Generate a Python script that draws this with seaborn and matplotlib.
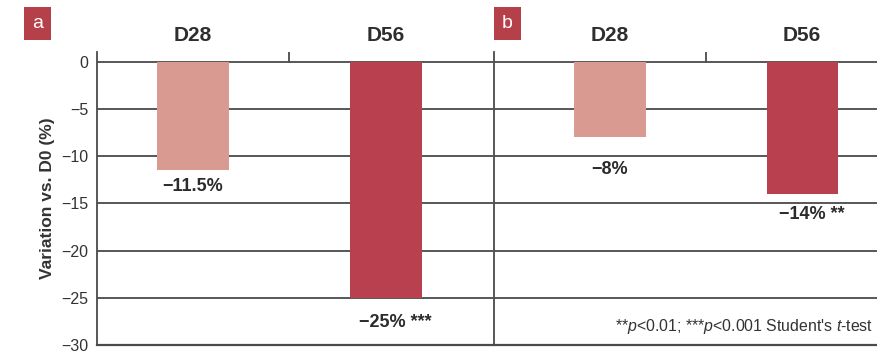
import matplotlib
matplotlib.use("Agg")
import matplotlib.pyplot as plt
import pandas as pd
import seaborn as sns

# values
days = ["D28", "D56"]
panel_a = [-11.5, -25]
panel_b = [-8, -14]
labels_a = ["\u221211.5%", "\u221225% ***"]
labels_b = ["\u22128%", "\u221214% **"]
bar_colors = ["#d99a92", "#b8404f"]
yticks = [0, -5, -10, -15, -20, -25, -30]
label_gap_a = [1.75, 2.6]
label_gap_b = [3.4, 2.2]
footnote = r"**$p$<0.01; ***$p$<0.001 Student's $t$-test"

sns.set_style("white")
plt.rcParams['font.family'] = ['Liberation Sans', 'DejaVu Sans']
plt.rcParams['mathtext.fontset'] = 'custom'
plt.rcParams['mathtext.it'] = 'Liberation Sans:italic'
plt.rcParams['mathtext.rm'] = 'Liberation Sans'

fig = plt.figure(figsize=(8.77, 3.53), dpi=100)
ax_a = fig.add_axes([0.1106, 0.0227, 0.4515, 0.830])
ax_b = fig.add_axes([0.5633, 0.0227, 0.4367, 0.830])

grid_col = "#4a4a4a"


def draw_panel(ax, values, labels, gaps, xlim, left_labels):
    df = pd.DataFrame({"day": days, "value": values})
    sns.barplot(data=df, x="day", y="value", hue="day", palette=bar_colors,
                width=0.37, legend=False, ax=ax, zorder=3, saturation=1,
                edgecolor="none", linewidth=0)
    ax.set_ylim(-30, 1.06)
    ax.set_xlim(*xlim)
    ax.set_yticks(yticks)
    ax.yaxis.grid(True, color=grid_col, linewidth=1.3)
    ax.set_axisbelow(True)
    for s in ["top", "right"]:
        ax.spines[s].set_visible(False)
    ax.spines["left"].set_color(grid_col)
    ax.spines["left"].set_linewidth(1.3)
    ax.spines["bottom"].set_color(grid_col)
    ax.spines["bottom"].set_linewidth(1.6)
    ax.xaxis.tick_top()
    ax.tick_params(axis="x", length=0, pad=5, labelsize=15, labelcolor="#2e2e2e")
    for t in ax.get_xticklabels():
        t.set_fontweight("bold")
    ax.set_xlabel("")
    ax.set_ylabel("")
    if left_labels:
        ax.set_yticklabels([f"{v}".replace("-", "\u2212") for v in yticks])
        ax.tick_params(axis="y", length=4, color=grid_col, labelsize=11.5,
                       labelcolor="#333333", pad=2)
    else:
        ax.tick_params(axis="y", length=0, labelleft=False)
    # separator tick between the two days
    ax.vlines(0.5, 0, 1.06, color=grid_col, linewidth=1.3, clip_on=False)
    for i, (v, lab, g) in enumerate(zip(values, labels, gaps)):
        dx = 0.05 if "*" in lab else 0
        ax.text(i + dx, v - g, lab, ha="center", va="center", fontsize=13,
                fontweight="bold", color="#2b2b2b")


draw_panel(ax_a, panel_a, labels_a, label_gap_a, (-0.497, 1.554), True)
draw_panel(ax_b, panel_b, labels_b, label_gap_b, (-0.604, 1.39), False)

ax_a.set_ylabel("Variation vs. D0 (%)", fontsize=12.5, fontweight="bold",
                color="#333333", labelpad=5)

# panel badges
for x, letter in [(24 / 877, "a"), (494 / 877, "b")]:
    fig.text(x + 13.5 / 877, 1 - 23.5 / 353, letter, ha="center", va="center",
             fontsize=14, color="white",
             bbox=dict(boxstyle="square,pad=0.4", facecolor="#b5404a",
                       edgecolor="none"))

fig.text(873 / 877, 1 - 326 / 353, footnote, ha="right", va="center",
         fontsize=11.4, color="#333333")

fig.savefig("out.png", dpi=100)
